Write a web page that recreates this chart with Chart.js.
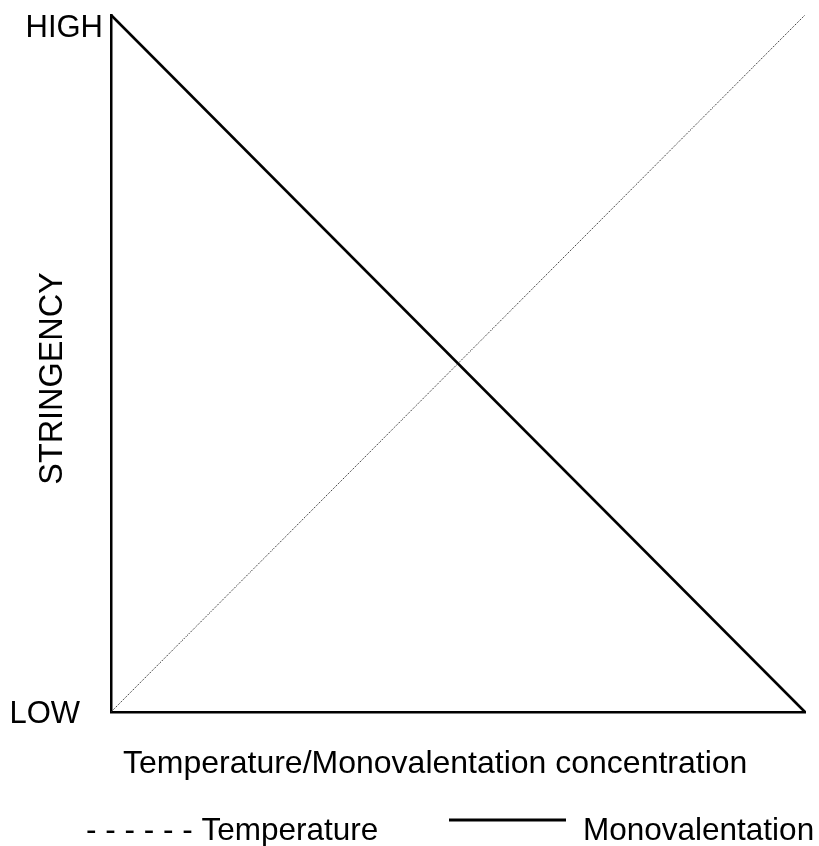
<!DOCTYPE html>
<html>
<head>
<meta charset="utf-8">
<script src="https://cdn.jsdelivr.net/npm/chart.js@4.4.1/dist/chart.umd.min.js"></script>
<style>
  html, body { margin: 0; padding: 0; background: #ffffff; }
  #wrap { width: 819px; height: 846px; position: relative; }
</style>
</head>
<body>
<div id="wrap"><canvas id="c" width="819" height="846"></canvas></div>
<script>
// ---- data ----
const xValues = [0, 1];
const monovalentationValues = [1, 0];
const temperatureValues = [0, 1];
const yTickValues = [0, 1];
const yTickLabels = ['LOW', 'HIGH'];
const xTitle = 'Temperature/Monovalentation concentration';
const yTitle = 'STRINGENCY';
const seriesNames = ['Temperature', 'Monovalentation'];

const FAMILY = '"Liberation Sans", Arial, sans-serif';

const toPoints = (xs, ys) => xs.map((x, i) => ({ x: x, y: ys[i] }));

const textPlugin = {
  id: 'textPlugin',
  afterDraw(chart) {
    const ctx = chart.ctx;
    const area = chart.chartArea;
    const ys = chart.scales.y;
    ctx.save();
    ctx.fillStyle = '#000';
    // y tick labels
    ctx.font = '31px ' + FAMILY;
    yTickValues.forEach((v, i) => {
      const py = ys.getPixelForValue(v);
      ctx.textAlign = 'right';
      ctx.textBaseline = 'alphabetic';
      if (i === yTickValues.length - 1) {
        ctx.fillText(yTickLabels[i], area.left - 8, py + 22);
      } else {
        ctx.fillText(yTickLabels[i], area.left - 31, py + 11);
      }
    });
    // y title
    ctx.save();
    ctx.font = '32.4px ' + FAMILY;
    ctx.translate(area.left - 49, (area.top + area.bottom) / 2 + 15);
    ctx.rotate(-Math.PI / 2);
    ctx.textAlign = 'center';
    ctx.textBaseline = 'alphabetic';
    ctx.fillText(yTitle, 0, 0);
    ctx.restore();
    // x title
    ctx.font = '32px ' + FAMILY;
    ctx.textAlign = 'left';
    ctx.textBaseline = 'alphabetic';
    ctx.fillText(xTitle, area.left + 12, area.bottom + 61);
    // legend
    ctx.font = '31.5px ' + FAMILY;
    const ly = area.bottom + 128;
    ctx.textAlign = 'left';
    ctx.fillText('- - - - - - ' + seriesNames[0], area.left - 25, ly);
    ctx.beginPath();
    ctx.lineWidth = 3;
    ctx.strokeStyle = '#000';
    ctx.moveTo(area.left + 338, ly - 20);
    ctx.lineTo(area.left + 455, ly - 20);
    ctx.stroke();
    ctx.fillText(seriesNames[1], area.left + 472, ly);
    ctx.restore();
  }
};

new Chart(document.getElementById('c'), {
  type: 'line',
  data: {
    datasets: [
      {
        label: seriesNames[0],
        data: toPoints(xValues, temperatureValues),
        borderColor: '#222',
        borderWidth: 1,
        borderDash: [1.2, 1.2],
        pointRadius: 0,
        fill: false,
        clip: false
      },
      {
        label: seriesNames[1],
        data: toPoints(xValues, monovalentationValues),
        borderColor: '#000',
        borderWidth: 2.5,
        pointRadius: 0,
        fill: false,
        clip: false
      }
    ]
  },
  options: {
    responsive: false,
    animation: false,
    events: [],
    layout: { padding: { left: 111, top: 15, right: 14, bottom: 134 } },
    plugins: { legend: { display: false }, tooltip: { enabled: false }, title: { display: false } },
    scales: {
      x: {
        type: 'linear', min: 0, max: 1,
        grid: { display: false, drawTicks: false },
        ticks: { display: false },
        border: { display: true, color: '#000', width: 2.5 },
        afterFit(s) { s.height = 0; }
      },
      y: {
        type: 'linear', min: 0, max: 1,
        grid: { display: false, drawTicks: false },
        ticks: { display: false },
        border: { display: true, color: '#000', width: 2.5 },
        afterFit(s) { s.width = 0; }
      }
    }
  },
  plugins: [textPlugin]
});
</script>
</body>
</html>
